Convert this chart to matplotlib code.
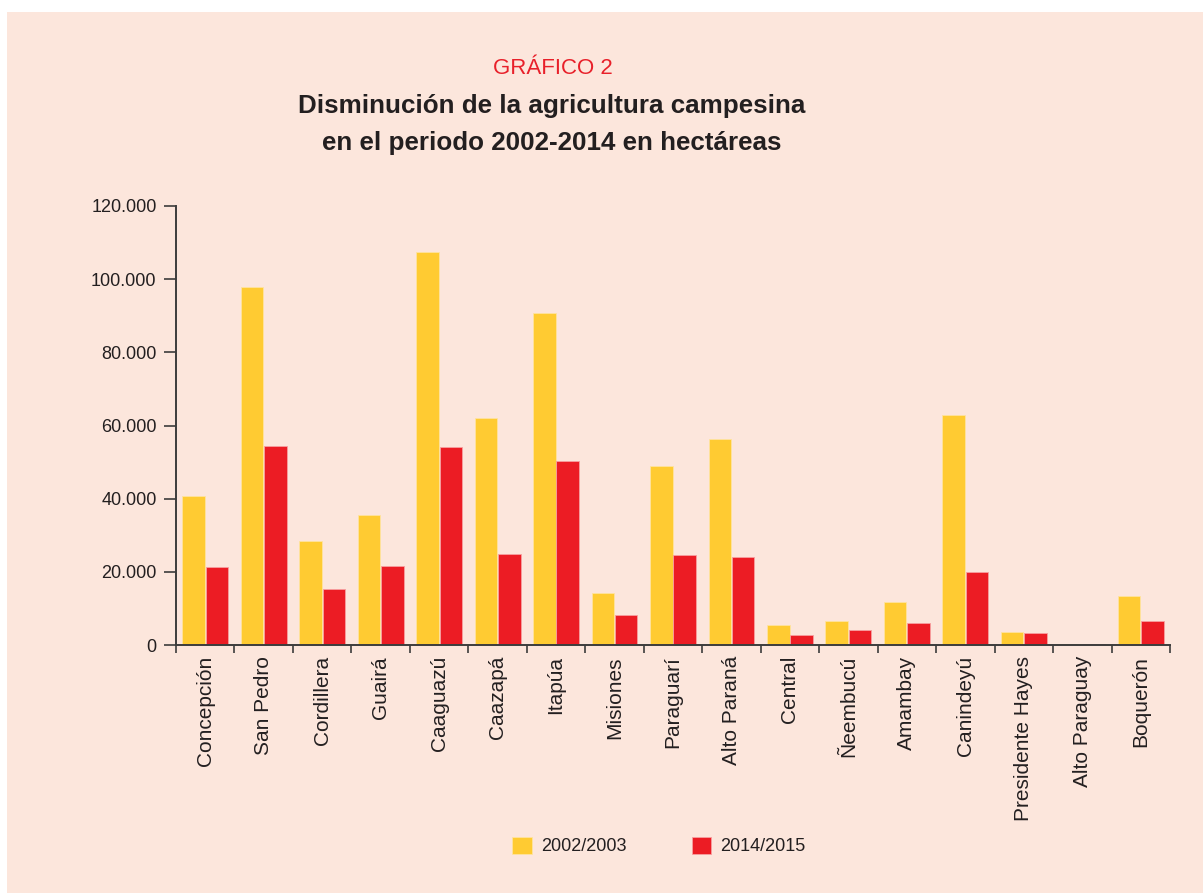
import matplotlib
matplotlib.use("Agg")
import matplotlib.pyplot as plt
from matplotlib.patches import Rectangle, Patch
from matplotlib.ticker import FuncFormatter
import numpy as np

departamentos = ["Concepción", "San Pedro", "Cordillera", "Guairá", "Caaguazú",
                 "Caazapá", "Itapúa", "Misiones", "Paraguarí", "Alto Paraná",
                 "Central", "Ñeembucú", "Amambay", "Canindeyú",
                 "Presidente Hayes", "Alto Paraguay", "Boquerón"]
ha_2002 = [40800, 97900, 28400, 35600, 107400, 62100, 90800, 14200, 48900,
           56300, 5400, 6600, 11800, 62900, 3500, 300, 13400]
ha_2014 = [21200, 54400, 15300, 21500, 54100, 24900, 50300, 8200, 24600,
           24000, 2650, 4100, 5900, 20000, 3200, 250, 6500]
series_labels = ["2002/2003", "2014/2015"]
y_ticks = [0, 20000, 40000, 60000, 80000, 100000, 120000]

YELLOW = "#FFCB32"
RED = "#EC1C24"
BG = "#FCE6DC"
TXT = "#231F20"
AX = "#3C3C3C"

W, H = 1203, 893
fig = plt.figure(figsize=(W / 100, H / 100), dpi=100, facecolor="white")
fig.patches.append(Rectangle((7 / W, 0), 1 - 7 / W, 1 - 12 / H, transform=fig.transFigure,
                             facecolor=BG, edgecolor="none", zorder=-10))

ax = fig.add_axes([176 / W, 1 - 645 / H, (1170 - 176) / W, (645 - 206) / H])
ax.set_facecolor("none")
ax.set_zorder(5)

x = np.arange(len(departamentos))
bw = 0.385
ax.bar(x - 0.2, ha_2002, width=bw, color=YELLOW, edgecolor="#FFE3A0", linewidth=0.6, zorder=2)
ax.bar(x + 0.2, ha_2014, width=bw, color=RED, edgecolor="#F7A0A0", linewidth=0.6, zorder=2)

ax.set_xlim(-0.5, len(departamentos) - 0.5)
ax.set_ylim(0, 120000)

for s in ["top", "right"]:
    ax.spines[s].set_visible(False)
for s in ["left", "bottom"]:
    ax.spines[s].set_color(AX)
    ax.spines[s].set_linewidth(1.4)
    ax.spines[s].set_zorder(3)

sans = ["Liberation Sans", "DejaVu Sans"]

ax.set_yticks(y_ticks)
ax.yaxis.set_major_formatter(FuncFormatter(lambda v, p: f"{int(v):,}".replace(",", ".")))
ax.tick_params(axis="y", direction="out", length=9, width=1.2, color=AX, pad=5,
               labelsize=13, labelcolor=TXT)
for t in ax.get_yticklabels():
    t.set_family(sans)

ax.set_xticks(x)
ax.set_xticklabels(departamentos, rotation=90, fontsize=15, color=TXT,
                   family=sans, va="top")
ax.tick_params(axis="x", which="major", length=0, pad=8)
ax.set_xticks(np.arange(-0.5, len(departamentos), 1.0), minor=True)
ax.tick_params(axis="x", which="minor", direction="out", length=6, width=1.2, color=AX)

fig.text(553 / W, 1 - 74 / H, "GRÁFICO 2", ha="center", va="baseline", fontsize=16,
         color="#E8202A", family=sans)
fig.text(552 / W, 1 - 113 / H, "Disminución de la agricultura campesina", ha="center",
         va="baseline", fontsize=18.7, fontweight="bold", color=TXT, family=sans)
fig.text(552 / W, 1 - 150 / H, "en el periodo 2002-2014 en hectáreas", ha="center",
         va="baseline", fontsize=18.7, fontweight="bold", color=TXT, family=sans)

handles = [Patch(facecolor=YELLOW, edgecolor="#FFE3A0", linewidth=0.6),
           Patch(facecolor=RED, edgecolor="#F7A0A0", linewidth=0.6)]
leg = fig.legend(handles, series_labels, loc="center", bbox_to_anchor=(659 / W, 1 - 846 / H),
                 ncol=2, frameon=False, handlelength=1.1, handleheight=1.1,
                 handletextpad=0.5, columnspacing=3.6,
                 prop={"family": sans, "size": 13})
for t in leg.get_texts():
    t.set_color(TXT)

fig.savefig("out.png", dpi=100, facecolor="white")
